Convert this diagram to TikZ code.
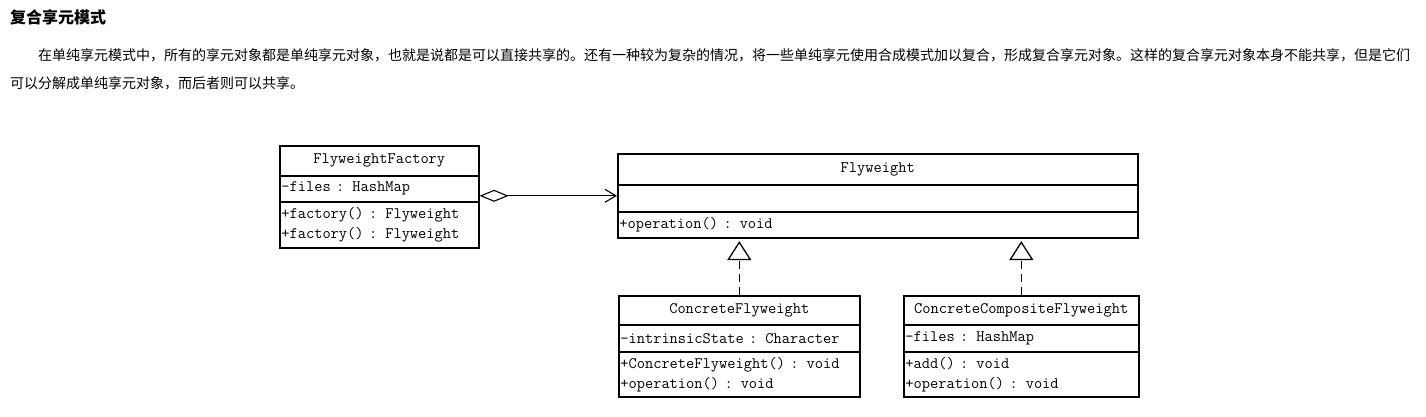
\documentclass[tikz,border=0pt]{standalone}
\usepackage{fontspec}
\newfontfamily\cjk{Noto Sans CJK SC}
\usetikzlibrary{arrows.meta}
\newcommand\umlfont{\ttfamily\fontsize{16}{20}\selectfont}
\tikzset{
  comp/.style={draw, line width=1.6pt, anchor=north west, inner xsep=1.5pt, inner ysep=0pt,
     font=\umlfont, text width=#1-3pt, minimum height=10pt},
  hdr/.style={comp=#1, align=center},
  body/.style={comp=#1, align=left},
  aggr/.style={line width=1.1pt, {Diamond[open,length=29pt,width=12pt]}-{Straight Barb[length=11pt,width=13pt]}},
  realize/.style={line width=1.4pt, dash pattern=on 8pt off 5pt, -{Triangle[open,length=19pt,width=24pt,line width=1.3pt]}, shorten >=2.5pt},
}
\begin{document}
\begin{tikzpicture}[x=1pt,y=-1pt]
\useasboundingbox (0,0) rectangle (1426,417);
\node[anchor=west, inner sep=0pt, font=\cjk\bfseries\fontsize{16}{18}\selectfont] (title) at (10,17) {复合享元模式};
\node[anchor=west, inner sep=0pt, font=\cjk\fontsize{14}{16}\selectfont] (p1) at (38,55) {在单纯享元模式中，所有的享元对象都是单纯享元对象，也就是说都是可以直接共享的。还有一种较为复杂的情况，将一些单纯享元使用合成模式加以复合，形成复合享元对象。这样的复合享元对象本身不能共享，但是它们};
\node[anchor=west, inner sep=0pt, font=\cjk\fontsize{14}{16}\selectfont] (p2) at (10,83) {可以分解成单纯享元对象，而后者则可以共享。};

% FlyweightFactory
\node[hdr=199pt, minimum height=30pt] (ffh) at (279,145) {FlyweightFactory};
\node[body=199pt, minimum height=26pt] (ffa) at (279,175) {-files : HashMap};
\node[body=199pt, minimum height=46pt] (ffm) at (279,201) {+factory() : Flyweight\\+factory() : Flyweight};

% Flyweight
\node[hdr=520pt, minimum height=31pt] (fwh) at (617,153) {Flyweight};
\node[body=520pt, minimum height=27pt] (fwa) at (617,184) {};
\node[body=520pt, minimum height=26pt] (fwm) at (617,211) {+operation() : void};

% ConcreteFlyweight
\node[hdr=241pt, minimum height=29pt] (cfh) at (618,295) {ConcreteFlyweight};
\node[body=241pt, minimum height=27pt] (cfa) at (618,324) {-intrinsicState : Character};
\node[body=241pt, minimum height=45pt] (cfm) at (618,351) {+ConcreteFlyweight() : void\\+operation() : void};

% ConcreteCompositeFlyweight
\node[hdr=235pt, minimum height=29pt] (cch) at (903,295) {ConcreteCompositeFlyweight};
\node[body=235pt, minimum height=27pt] (cca) at (903,324) {-files : HashMap};
\node[body=235pt, minimum height=45pt] (ccm) at (903,351) {+add() : void\\+operation() : void};

% connectors
\draw[aggr] ([yshift=-7pt]ffa.east) -- ([yshift=-7pt]ffa.east -| fwa.west);
\draw[realize] (cfh.north) -- (cfh.north |- fwm.south);
\draw[realize] (cch.north) -- (cch.north |- fwm.south);
\end{tikzpicture}
\end{document}
